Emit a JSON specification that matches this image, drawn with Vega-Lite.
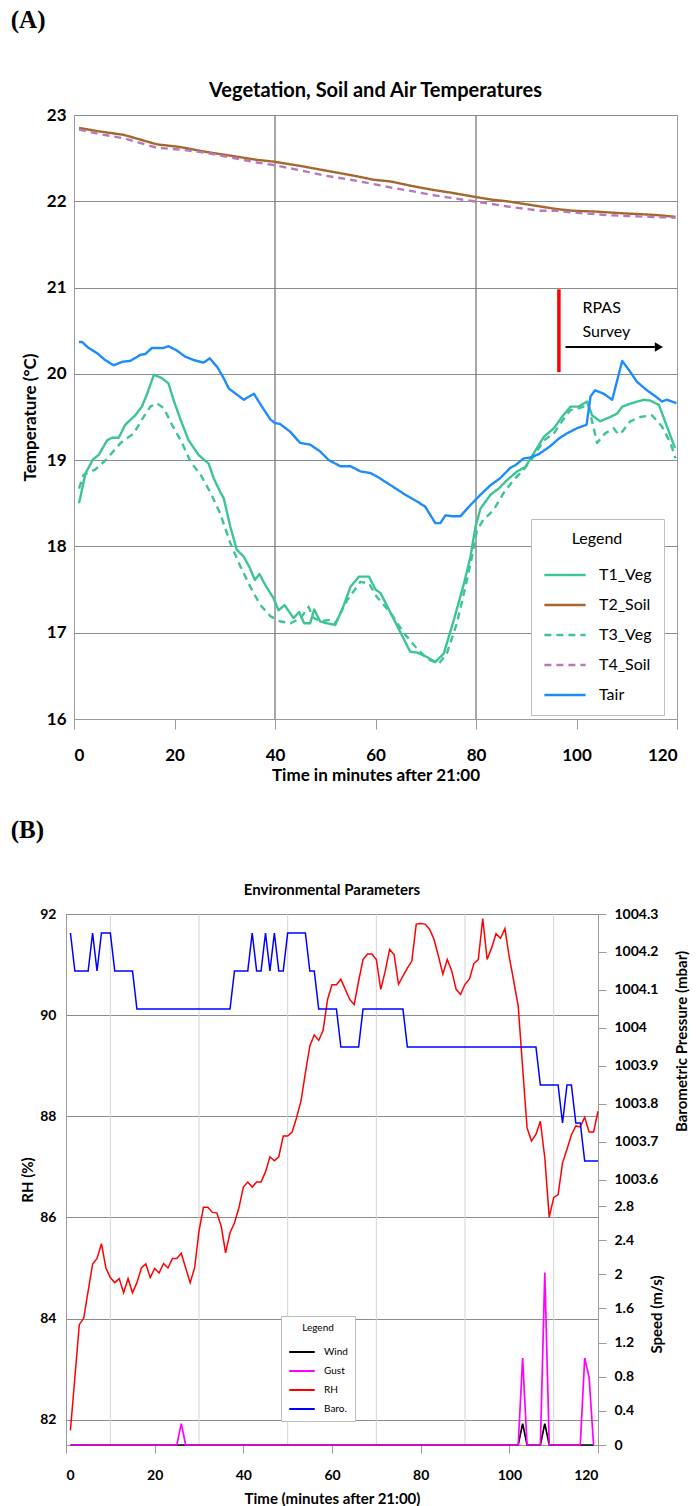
{
"$schema":"https://vega.github.io/schema/vega-lite/v6.json",
"background":"white",
"padding":{"left":10,"top":7,"right":0,"bottom":0},
"spacing":33,
"columns":1,
"resolve":{"scale":{"color":"independent","strokeDash":"independent","strokeWidth":"independent","x":"independent"},"legend":{"color":"independent","strokeDash":"independent"}},
"config":{
 "font":"Lato",
 "view":{"stroke":"#9a9a9a"},
 "axis":{"labelFont":"Lato","titleFont":"Lato","labelColor":"black","titleColor":"black","domainColor":"#9a9a9a","tickColor":"#9a9a9a","labelFontWeight":"bold","titleFontWeight":"bold"},
 "title":{"font":"Lato","fontWeight":"bold","color":"black"},
 "legend":{"labelFont":"Lato","titleFont":"Lato","labelColor":"black","titleColor":"black","titleFontWeight":"normal"}
},
"concat":[
{
 "title":{"text":"(A)","anchor":"start","font":"Liberation Serif","fontSize":25,"fontWeight":"bold","offset":48,"dx":-3},
 "spacing":0,
 "hconcat":[
 {"width":1,"height":1,"view":{"stroke":null},"data":{"values":[{"a":0}]},"mark":{"type":"point","opacity":0},"encoding":{"x":{"field":"a","type":"quantitative","axis":null},"y":{"field":"a","type":"quantitative","axis":null}}},
 {
 "width":603,"height":604,
 "title":{"text":"Vegetation, Soil and Air Temperatures","fontSize":20,"offset":5},
 "layer":[
  {"data":{"values":[{"t":40},{"t":80}]},
   "mark":{"type":"rule","color":"#7a7a7a","strokeWidth":1.3},
   "encoding":{"x":{"field":"t","type":"quantitative","scale":{"domain":[0,120],"nice":false},"axis":{"values":[0,20,40,60,80,100,120],"title":"Time in minutes after 21:00","labelFontSize":17,"titleFontSize":17,"tickSize":10,"labelPadding":18,"titlePadding":4,"grid":false}}}},
  {"data":{"values":[
{"t":1,"s":"T2_Soil","v":22.85},{"t":5,"s":"T2_Soil","v":22.81},{"t":9.9,"s":"T2_Soil","v":22.77},{"t":16.5,"s":"T2_Soil","v":22.66},{"t":21,"s":"T2_Soil","v":22.63},{"t":26.5,"s":"T2_Soil","v":22.57},{"t":31,"s":"T2_Soil","v":22.53},{"t":36.4,"s":"T2_Soil","v":22.48},{"t":39.7,"s":"T2_Soil","v":22.46},{"t":45,"s":"T2_Soil","v":22.41},{"t":49.7,"s":"T2_Soil","v":22.36},{"t":56.3,"s":"T2_Soil","v":22.29},{"t":59.6,"s":"T2_Soil","v":22.25},{"t":63,"s":"T2_Soil","v":22.23},{"t":67,"s":"T2_Soil","v":22.18},{"t":71.6,"s":"T2_Soil","v":22.13},{"t":75,"s":"T2_Soil","v":22.1},{"t":79.9,"s":"T2_Soil","v":22.05},{"t":83,"s":"T2_Soil","v":22.02},{"t":86.2,"s":"T2_Soil","v":22.0},{"t":92.8,"s":"T2_Soil","v":21.94},{"t":96,"s":"T2_Soil","v":21.91},{"t":99.4,"s":"T2_Soil","v":21.89},{"t":104,"s":"T2_Soil","v":21.88},{"t":109.4,"s":"T2_Soil","v":21.86},{"t":113,"s":"T2_Soil","v":21.85},{"t":116,"s":"T2_Soil","v":21.84},{"t":119.7,"s":"T2_Soil","v":21.82},
{"t":1,"s":"T4_Soil","v":22.83},{"t":5,"s":"T4_Soil","v":22.78},{"t":9.9,"s":"T4_Soil","v":22.73},{"t":16.5,"s":"T4_Soil","v":22.62},{"t":21,"s":"T4_Soil","v":22.6},{"t":26.5,"s":"T4_Soil","v":22.56},{"t":31,"s":"T4_Soil","v":22.51},{"t":36.4,"s":"T4_Soil","v":22.45},{"t":39.7,"s":"T4_Soil","v":22.42},{"t":45,"s":"T4_Soil","v":22.36},{"t":49.7,"s":"T4_Soil","v":22.3},{"t":55,"s":"T4_Soil","v":22.25},{"t":59.6,"s":"T4_Soil","v":22.2},{"t":63,"s":"T4_Soil","v":22.16},{"t":67,"s":"T4_Soil","v":22.12},{"t":71.6,"s":"T4_Soil","v":22.07},{"t":75,"s":"T4_Soil","v":22.04},{"t":79.5,"s":"T4_Soil","v":22.0},{"t":83,"s":"T4_Soil","v":21.97},{"t":86.2,"s":"T4_Soil","v":21.94},{"t":92.8,"s":"T4_Soil","v":21.89},{"t":96,"s":"T4_Soil","v":21.89},{"t":99.4,"s":"T4_Soil","v":21.87},{"t":106,"s":"T4_Soil","v":21.84},{"t":110,"s":"T4_Soil","v":21.83},{"t":114,"s":"T4_Soil","v":21.82},{"t":119.7,"s":"T4_Soil","v":21.81},
{"t":1,"s":"T3_Veg","v":18.67},{"t":1.9,"s":"T3_Veg","v":18.83},{"t":4.2,"s":"T3_Veg","v":18.89},{"t":6.3,"s":"T3_Veg","v":19.0},{"t":9.3,"s":"T3_Veg","v":19.2},{"t":11.9,"s":"T3_Veg","v":19.31},{"t":13.5,"s":"T3_Veg","v":19.47},{"t":15.2,"s":"T3_Veg","v":19.62},{"t":16.5,"s":"T3_Veg","v":19.66},{"t":17.9,"s":"T3_Veg","v":19.6},{"t":19.5,"s":"T3_Veg","v":19.41},{"t":21.5,"s":"T3_Veg","v":19.2},{"t":23.2,"s":"T3_Veg","v":18.98},{"t":25.2,"s":"T3_Veg","v":18.83},{"t":27.2,"s":"T3_Veg","v":18.62},{"t":29.1,"s":"T3_Veg","v":18.38},{"t":31.1,"s":"T3_Veg","v":18.04},{"t":33.1,"s":"T3_Veg","v":17.77},{"t":35.1,"s":"T3_Veg","v":17.53},{"t":37.1,"s":"T3_Veg","v":17.32},{"t":39.1,"s":"T3_Veg","v":17.19},{"t":41.1,"s":"T3_Veg","v":17.13},{"t":43.1,"s":"T3_Veg","v":17.11},{"t":45.1,"s":"T3_Veg","v":17.17},{"t":46.7,"s":"T3_Veg","v":17.3},{"t":47.5,"s":"T3_Veg","v":17.18},{"t":49,"s":"T3_Veg","v":17.13},{"t":51,"s":"T3_Veg","v":17.15},{"t":52,"s":"T3_Veg","v":17.11},{"t":54.4,"s":"T3_Veg","v":17.38},{"t":57,"s":"T3_Veg","v":17.59},{"t":58.7,"s":"T3_Veg","v":17.57},{"t":60.2,"s":"T3_Veg","v":17.42},{"t":63,"s":"T3_Veg","v":17.23},{"t":65.6,"s":"T3_Veg","v":17.0},{"t":67.9,"s":"T3_Veg","v":16.84},{"t":70.2,"s":"T3_Veg","v":16.7},{"t":72.6,"s":"T3_Veg","v":16.64},{"t":74.2,"s":"T3_Veg","v":16.76},{"t":76.2,"s":"T3_Veg","v":17.11},{"t":78.2,"s":"T3_Veg","v":17.61},{"t":79.2,"s":"T3_Veg","v":17.88},{"t":80.2,"s":"T3_Veg","v":18.19},{"t":81.5,"s":"T3_Veg","v":18.31},{"t":83.5,"s":"T3_Veg","v":18.42},{"t":85.5,"s":"T3_Veg","v":18.62},{"t":87.5,"s":"T3_Veg","v":18.77},{"t":89.5,"s":"T3_Veg","v":18.89},{"t":91.2,"s":"T3_Veg","v":19.02},{"t":93.5,"s":"T3_Veg","v":19.23},{"t":95.5,"s":"T3_Veg","v":19.31},{"t":97.1,"s":"T3_Veg","v":19.45},{"t":98.8,"s":"T3_Veg","v":19.58},{"t":100.4,"s":"T3_Veg","v":19.6},{"t":102.4,"s":"T3_Veg","v":19.64},{"t":103.1,"s":"T3_Veg","v":19.45},{"t":104.1,"s":"T3_Veg","v":19.2},{"t":105.7,"s":"T3_Veg","v":19.31},{"t":107.4,"s":"T3_Veg","v":19.37},{"t":108.3,"s":"T3_Veg","v":19.3},{"t":109.1,"s":"T3_Veg","v":19.33},{"t":110.7,"s":"T3_Veg","v":19.45},{"t":112.7,"s":"T3_Veg","v":19.5},{"t":115,"s":"T3_Veg","v":19.52},{"t":117,"s":"T3_Veg","v":19.39},{"t":118.7,"s":"T3_Veg","v":19.2},{"t":119.7,"s":"T3_Veg","v":19.02},
{"t":1,"s":"T1_Veg","v":18.5},{"t":2.3,"s":"T1_Veg","v":18.85},{"t":3.8,"s":"T1_Veg","v":19.01},{"t":4.9,"s":"T1_Veg","v":19.06},{"t":6.6,"s":"T1_Veg","v":19.23},{"t":7.6,"s":"T1_Veg","v":19.26},{"t":8.9,"s":"T1_Veg","v":19.26},{"t":10.2,"s":"T1_Veg","v":19.41},{"t":12.2,"s":"T1_Veg","v":19.52},{"t":13.5,"s":"T1_Veg","v":19.62},{"t":14.5,"s":"T1_Veg","v":19.76},{"t":15.9,"s":"T1_Veg","v":19.99},{"t":17.5,"s":"T1_Veg","v":19.95},{"t":18.8,"s":"T1_Veg","v":19.89},{"t":19.8,"s":"T1_Veg","v":19.7},{"t":21.2,"s":"T1_Veg","v":19.47},{"t":22.8,"s":"T1_Veg","v":19.23},{"t":24.8,"s":"T1_Veg","v":19.06},{"t":26.8,"s":"T1_Veg","v":18.96},{"t":27.8,"s":"T1_Veg","v":18.79},{"t":29.1,"s":"T1_Veg","v":18.63},{"t":29.8,"s":"T1_Veg","v":18.56},{"t":31.1,"s":"T1_Veg","v":18.23},{"t":32.4,"s":"T1_Veg","v":17.96},{"t":33.8,"s":"T1_Veg","v":17.88},{"t":35,"s":"T1_Veg","v":17.75},{"t":36,"s":"T1_Veg","v":17.61},{"t":36.9,"s":"T1_Veg","v":17.68},{"t":38.1,"s":"T1_Veg","v":17.55},{"t":39.7,"s":"T1_Veg","v":17.4},{"t":40.7,"s":"T1_Veg","v":17.26},{"t":41.9,"s":"T1_Veg","v":17.32},{"t":43.7,"s":"T1_Veg","v":17.17},{"t":44.8,"s":"T1_Veg","v":17.24},{"t":45.8,"s":"T1_Veg","v":17.11},{"t":47,"s":"T1_Veg","v":17.11},{"t":47.8,"s":"T1_Veg","v":17.27},{"t":49,"s":"T1_Veg","v":17.13},{"t":50.3,"s":"T1_Veg","v":17.11},{"t":52,"s":"T1_Veg","v":17.09},{"t":53.7,"s":"T1_Veg","v":17.32},{"t":55,"s":"T1_Veg","v":17.53},{"t":56.7,"s":"T1_Veg","v":17.65},{"t":58.7,"s":"T1_Veg","v":17.65},{"t":60,"s":"T1_Veg","v":17.5},{"t":61,"s":"T1_Veg","v":17.46},{"t":63,"s":"T1_Veg","v":17.23},{"t":65,"s":"T1_Veg","v":17.0},{"t":66.9,"s":"T1_Veg","v":16.78},{"t":68.3,"s":"T1_Veg","v":16.77},{"t":70.2,"s":"T1_Veg","v":16.72},{"t":71.9,"s":"T1_Veg","v":16.66},{"t":73.6,"s":"T1_Veg","v":16.76},{"t":75.6,"s":"T1_Veg","v":17.15},{"t":77.6,"s":"T1_Veg","v":17.57},{"t":78.9,"s":"T1_Veg","v":17.88},{"t":79.9,"s":"T1_Veg","v":18.23},{"t":80.9,"s":"T1_Veg","v":18.44},{"t":82.9,"s":"T1_Veg","v":18.6},{"t":84.5,"s":"T1_Veg","v":18.67},{"t":86.2,"s":"T1_Veg","v":18.77},{"t":88.2,"s":"T1_Veg","v":18.87},{"t":89.8,"s":"T1_Veg","v":18.92},{"t":91.5,"s":"T1_Veg","v":19.08},{"t":93.5,"s":"T1_Veg","v":19.27},{"t":95.5,"s":"T1_Veg","v":19.37},{"t":97.1,"s":"T1_Veg","v":19.5},{"t":98.8,"s":"T1_Veg","v":19.62},{"t":100.4,"s":"T1_Veg","v":19.62},{"t":102.1,"s":"T1_Veg","v":19.68},{"t":103.1,"s":"T1_Veg","v":19.52},{"t":104.7,"s":"T1_Veg","v":19.45},{"t":106.7,"s":"T1_Veg","v":19.5},{"t":108.1,"s":"T1_Veg","v":19.54},{"t":109.1,"s":"T1_Veg","v":19.62},{"t":111,"s":"T1_Veg","v":19.66},{"t":113.4,"s":"T1_Veg","v":19.7},{"t":114.7,"s":"T1_Veg","v":19.69},{"t":116.4,"s":"T1_Veg","v":19.64},{"t":118,"s":"T1_Veg","v":19.39},{"t":119.6,"s":"T1_Veg","v":19.14},
{"t":1,"s":"Tair","v":20.37},{"t":1.6,"s":"Tair","v":20.37},{"t":2.9,"s":"Tair","v":20.3},{"t":4.6,"s":"Tair","v":20.24},{"t":6.2,"s":"Tair","v":20.16},{"t":7.9,"s":"Tair","v":20.1},{"t":9.6,"s":"Tair","v":20.14},{"t":11.2,"s":"Tair","v":20.15},{"t":13.2,"s":"Tair","v":20.22},{"t":14.2,"s":"Tair","v":20.23},{"t":15.5,"s":"Tair","v":20.3},{"t":17.8,"s":"Tair","v":20.3},{"t":18.8,"s":"Tair","v":20.32},{"t":20.5,"s":"Tair","v":20.27},{"t":22.1,"s":"Tair","v":20.2},{"t":23.8,"s":"Tair","v":20.16},{"t":25.8,"s":"Tair","v":20.13},{"t":27,"s":"Tair","v":20.18},{"t":28.5,"s":"Tair","v":20.08},{"t":29.8,"s":"Tair","v":19.95},{"t":30.8,"s":"Tair","v":19.83},{"t":32.4,"s":"Tair","v":19.76},{"t":33.8,"s":"Tair","v":19.7},{"t":35.8,"s":"Tair","v":19.77},{"t":37.4,"s":"Tair","v":19.62},{"t":39.1,"s":"Tair","v":19.47},{"t":40,"s":"Tair","v":19.43},{"t":41,"s":"Tair","v":19.42},{"t":43,"s":"Tair","v":19.33},{"t":45,"s":"Tair","v":19.2},{"t":47,"s":"Tair","v":19.18},{"t":49,"s":"Tair","v":19.1},{"t":50.7,"s":"Tair","v":19.0},{"t":53,"s":"Tair","v":18.93},{"t":55,"s":"Tair","v":18.93},{"t":57,"s":"Tair","v":18.87},{"t":59,"s":"Tair","v":18.85},{"t":60.3,"s":"Tair","v":18.81},{"t":63,"s":"Tair","v":18.71},{"t":65.9,"s":"Tair","v":18.6},{"t":68.3,"s":"Tair","v":18.52},{"t":69.9,"s":"Tair","v":18.46},{"t":71.9,"s":"Tair","v":18.27},{"t":72.9,"s":"Tair","v":18.27},{"t":73.9,"s":"Tair","v":18.36},{"t":75.2,"s":"Tair","v":18.35},{"t":76.9,"s":"Tair","v":18.35},{"t":78.9,"s":"Tair","v":18.48},{"t":80.9,"s":"Tair","v":18.6},{"t":82.9,"s":"Tair","v":18.71},{"t":84.8,"s":"Tair","v":18.79},{"t":86.8,"s":"Tair","v":18.91},{"t":87.8,"s":"Tair","v":18.94},{"t":89.5,"s":"Tair","v":19.02},{"t":90.8,"s":"Tair","v":19.03},{"t":92.5,"s":"Tair","v":19.07},{"t":94.5,"s":"Tair","v":19.15},{"t":96.5,"s":"Tair","v":19.25},{"t":98.1,"s":"Tair","v":19.31},{"t":100.1,"s":"Tair","v":19.37},{"t":102,"s":"Tair","v":19.41},{"t":102.8,"s":"Tair","v":19.74},{"t":103.7,"s":"Tair","v":19.81},{"t":105.4,"s":"Tair","v":19.77},{"t":107.1,"s":"Tair","v":19.7},{"t":109.1,"s":"Tair","v":20.15},{"t":110.5,"s":"Tair","v":20.04},{"t":112,"s":"Tair","v":19.91},{"t":114,"s":"Tair","v":19.81},{"t":115.7,"s":"Tair","v":19.74},{"t":117,"s":"Tair","v":19.68},{"t":118,"s":"Tair","v":19.7},{"t":119.9,"s":"Tair","v":19.66}
   ]},
   "mark":{"type":"line","strokeJoin":"round"},
   "encoding":{
    "x":{"field":"t","type":"quantitative","scale":{"domain":[0,120],"nice":false},"axis":{"values":[0,20,40,60,80,100,120],"title":"Time in minutes after 21:00","labelFontSize":17,"titleFontSize":17,"tickSize":10,"labelPadding":18,"titlePadding":4,"grid":false}},
    "y":{"field":"v","type":"quantitative","scale":{"domain":[16,23],"nice":false,"zero":false},"axis":{"values":[16,17,18,19,20,21,22,23],"labelExpr":"toString(datum.value)","title":"Temperature (°C)","grid":true,"gridColor":"#8c8c8c","labelFontSize":17,"titleFontSize":17,"tickSize":0,"labelPadding":8,"titlePadding":7}},
    "color":{"field":"s","type":"nominal","scale":{"domain":["T1_Veg","T2_Soil","T3_Veg","T4_Soil","Tair"],"range":["#3cc592","#a5672d","#3cc592","#bb77bb","#1e8cff"]},
      "legend":{"orient":"none","legendX":515,"legendY":404,"title":"Legend","titleAnchor":"middle","fillColor":"white","strokeColor":"#bdbdbd","padding":12,"symbolType":"stroke","symbolSize":1700,"symbolStrokeWidth":2.4,"labelFontSize":16,"titleFontSize":16,"rowPadding":0,"titlePadding":6,"labelOffset":12}},
    "strokeDash":{"field":"s","type":"nominal","scale":{"domain":["T1_Veg","T2_Soil","T3_Veg","T4_Soil","Tair"],"range":[[1,0],[1,0],[7,5],[7,5],[1,0]]},
      "legend":{"orient":"none","legendX":515,"legendY":404,"title":"Legend","titleAnchor":"middle","fillColor":"white","strokeColor":"#bdbdbd","padding":12,"symbolType":"stroke","symbolSize":1700,"symbolStrokeWidth":2.4,"labelFontSize":16,"titleFontSize":16,"rowPadding":0,"titlePadding":6,"labelOffset":12}},
    "strokeWidth":{"field":"s","type":"nominal","scale":{"domain":["T1_Veg","T2_Soil","T3_Veg","T4_Soil","Tair"],"range":[2.4,2.4,1.2,2,2.4]},"legend":null}
   }},
  {"data":{"values":[{"t":96.5,"lo":20.02,"hi":20.98}]},
   "mark":{"type":"rule","color":"#ff0000","strokeWidth":3.5},
   "encoding":{"x":{"field":"t","type":"quantitative"},"y":{"field":"lo","type":"quantitative"},"y2":{"field":"hi"}}},
  {"data":{"values":[{"t":97.8,"t2":115.6,"v":20.31}]},
   "mark":{"type":"rule","color":"black","strokeWidth":2},
   "encoding":{"x":{"field":"t","type":"quantitative"},"x2":{"field":"t2"},"y":{"field":"v","type":"quantitative"}}},
  {"data":{"values":[{"t":116.4,"v":20.31}]},
   "mark":{"type":"point","shape":"triangle-right","filled":true,"color":"black","size":90,"opacity":1},
   "encoding":{"x":{"field":"t","type":"quantitative"},"y":{"field":"v","type":"quantitative"}}},
  {"data":{"values":[{"t":101.2,"v":20.76,"label":"RPAS"},{"t":101.2,"v":20.49,"label":"Survey"}]},
   "mark":{"type":"text","align":"left","baseline":"middle","fontSize":16,"font":"Lato","color":"black"},
   "encoding":{"x":{"field":"t","type":"quantitative"},"y":{"field":"v","type":"quantitative"},"text":{"field":"label"}}}
 ]
 }]
},
{
 "title":{"text":"(B)","anchor":"start","font":"Liberation Serif","fontSize":25,"fontWeight":"bold","offset":40,"dx":-3},
 "spacing":0,
 "hconcat":[
 {"width":1,"height":1,"view":{"stroke":null},"data":{"values":[{"a":0}]},"mark":{"type":"point","opacity":0},"encoding":{"x":{"field":"a","type":"quantitative","axis":null},"y":{"field":"a","type":"quantitative","axis":null}}},
 {
 "width":532,"height":531,
 "title":{"text":"Environmental Parameters","fontSize":15,"offset":9},
 "layer":[
  {"data":{"values":[{"t":10},{"t":30},{"t":50},{"t":70},{"t":90},{"t":110}]},
   "mark":{"type":"rule","color":"#d3d3d3","strokeWidth":1},
   "encoding":{"x":{"field":"t","type":"quantitative","scale":{"domain":[0,120],"nice":false},"axis":{"values":[0,20,40,60,80,100,120],"title":"Time (minutes after 21:00)","labelFontSize":14,"titleFontSize":15,"tickSize":8,"labelPadding":15,"titlePadding":9,"grid":false}}}},
  {"data":{"values":[
{"t":1,"s":"RH","rh":81.79},{"t":2,"s":"RH","rh":82.84},{"t":3,"s":"RH","rh":83.88},{"t":4,"s":"RH","rh":84.01},{"t":5,"s":"RH","rh":84.55},{"t":6,"s":"RH","rh":85.08},{"t":7,"s":"RH","rh":85.19},{"t":8,"s":"RH","rh":85.48},{"t":9,"s":"RH","rh":85.0},{"t":10,"s":"RH","rh":84.81},{"t":11,"s":"RH","rh":84.71},{"t":12,"s":"RH","rh":84.79},{"t":13,"s":"RH","rh":84.51},{"t":14,"s":"RH","rh":84.79},{"t":15,"s":"RH","rh":84.51},{"t":16,"s":"RH","rh":84.71},{"t":17,"s":"RH","rh":85.0},{"t":18,"s":"RH","rh":85.08},{"t":19,"s":"RH","rh":84.81},{"t":20,"s":"RH","rh":84.99},{"t":21,"s":"RH","rh":84.9},{"t":22,"s":"RH","rh":85.09},{"t":23,"s":"RH","rh":85.0},{"t":24,"s":"RH","rh":85.19},{"t":25,"s":"RH","rh":85.19},{"t":26,"s":"RH","rh":85.29},{"t":27,"s":"RH","rh":85.0},{"t":28,"s":"RH","rh":84.71},{"t":29,"s":"RH","rh":85.0},{"t":30,"s":"RH","rh":85.73},{"t":31,"s":"RH","rh":86.2},{"t":32,"s":"RH","rh":86.2},{"t":33,"s":"RH","rh":86.1},{"t":34,"s":"RH","rh":86.09},{"t":35,"s":"RH","rh":85.83},{"t":36,"s":"RH","rh":85.3},{"t":37,"s":"RH","rh":85.7},{"t":38,"s":"RH","rh":85.89},{"t":39,"s":"RH","rh":86.19},{"t":40,"s":"RH","rh":86.6},{"t":41,"s":"RH","rh":86.7},{"t":42,"s":"RH","rh":86.6},{"t":43,"s":"RH","rh":86.7},{"t":44,"s":"RH","rh":86.7},{"t":45,"s":"RH","rh":86.9},{"t":46,"s":"RH","rh":87.2},{"t":47,"s":"RH","rh":87.12},{"t":48,"s":"RH","rh":87.2},{"t":49,"s":"RH","rh":87.61},{"t":50,"s":"RH","rh":87.61},{"t":51,"s":"RH","rh":87.69},{"t":52,"s":"RH","rh":87.97},{"t":53,"s":"RH","rh":88.3},{"t":54,"s":"RH","rh":88.86},{"t":55,"s":"RH","rh":89.39},{"t":56,"s":"RH","rh":89.61},{"t":57,"s":"RH","rh":89.5},{"t":58,"s":"RH","rh":89.7},{"t":59,"s":"RH","rh":90.31},{"t":60,"s":"RH","rh":90.6},{"t":61,"s":"RH","rh":90.6},{"t":62,"s":"RH","rh":90.71},{"t":63,"s":"RH","rh":90.51},{"t":64,"s":"RH","rh":90.31},{"t":65,"s":"RH","rh":90.21},{"t":66,"s":"RH","rh":90.67},{"t":67,"s":"RH","rh":91.1},{"t":68,"s":"RH","rh":91.21},{"t":69,"s":"RH","rh":91.21},{"t":70,"s":"RH","rh":91.1},{"t":71,"s":"RH","rh":90.51},{"t":72,"s":"RH","rh":90.87},{"t":73,"s":"RH","rh":91.3},{"t":74,"s":"RH","rh":91.2},{"t":75,"s":"RH","rh":90.61},{"t":76,"s":"RH","rh":90.77},{"t":77,"s":"RH","rh":90.93},{"t":78,"s":"RH","rh":91.07},{"t":79,"s":"RH","rh":91.8},{"t":80,"s":"RH","rh":91.81},{"t":81,"s":"RH","rh":91.8},{"t":82,"s":"RH","rh":91.7},{"t":83,"s":"RH","rh":91.5},{"t":84,"s":"RH","rh":91.17},{"t":85,"s":"RH","rh":90.81},{"t":86,"s":"RH","rh":91.1},{"t":87,"s":"RH","rh":90.88},{"t":88,"s":"RH","rh":90.51},{"t":89,"s":"RH","rh":90.41},{"t":90,"s":"RH","rh":90.61},{"t":91,"s":"RH","rh":90.71},{"t":92,"s":"RH","rh":91.02},{"t":93,"s":"RH","rh":91.1},{"t":94,"s":"RH","rh":91.91},{"t":95,"s":"RH","rh":91.1},{"t":96,"s":"RH","rh":91.33},{"t":97,"s":"RH","rh":91.61},{"t":98,"s":"RH","rh":91.52},{"t":99,"s":"RH","rh":91.71},{"t":100,"s":"RH","rh":91.14},{"t":101,"s":"RH","rh":90.67},{"t":102,"s":"RH","rh":90.18},{"t":103,"s":"RH","rh":88.96},{"t":104,"s":"RH","rh":87.77},{"t":105,"s":"RH","rh":87.51},{"t":106,"s":"RH","rh":87.64},{"t":107,"s":"RH","rh":87.9},{"t":108,"s":"RH","rh":87.18},{"t":109,"s":"RH","rh":86.0},{"t":110,"s":"RH","rh":86.39},{"t":111,"s":"RH","rh":86.45},{"t":112,"s":"RH","rh":87.08},{"t":113,"s":"RH","rh":87.35},{"t":114,"s":"RH","rh":87.63},{"t":115,"s":"RH","rh":87.81},{"t":116,"s":"RH","rh":87.79},{"t":117,"s":"RH","rh":87.98},{"t":118,"s":"RH","rh":87.69},{"t":119,"s":"RH","rh":87.69},{"t":120,"s":"RH","rh":88.1}
   ]},
   "mark":{"type":"line","strokeWidth":1.5},
   "encoding":{
    "x":{"field":"t","type":"quantitative","scale":{"domain":[0,120],"nice":false},"axis":{"values":[0,20,40,60,80,100,120],"title":"Time (minutes after 21:00)","labelFontSize":14,"titleFontSize":15,"tickSize":8,"labelPadding":15,"titlePadding":9,"grid":false}},
    "y":{"field":"rh","type":"quantitative","scale":{"domain":[81.5,92],"nice":false,"zero":false},"axis":{"orient":"left","values":[82,84,86,88,90,92],"labelExpr":"toString(datum.value)","title":"RH (%)","grid":true,"gridColor":"#8c8c8c","labelFontSize":14,"titleFontSize":15,"tickSize":0,"labelPadding":10,"titlePadding":4}},
    "color":{"field":"s","type":"nominal","scale":{"domain":["Wind","Gust","RH","Baro."],"range":["#000000","#ff00ff","#ff0000","#0000ff"]},
      "legend":{"orient":"none","legendX":265,"legendY":402,"title":"Legend","titleAnchor":"middle","fillColor":"white","strokeColor":"#bdbdbd","padding":7,"symbolType":"stroke","symbolSize":650,"symbolStrokeWidth":2,"labelFontSize":10,"titleFontSize":10,"rowPadding":0,"titlePadding":5,"labelOffset":8}}
   }},
  {"data":{"values":[
{"t":1,"s":"Baro.","p":1004.25},{"t":2,"s":"Baro.","p":1004.15},{"t":5,"s":"Baro.","p":1004.15},{"t":6,"s":"Baro.","p":1004.25},{"t":7,"s":"Baro.","p":1004.15},{"t":8,"s":"Baro.","p":1004.25},{"t":10,"s":"Baro.","p":1004.25},{"t":11,"s":"Baro.","p":1004.15},{"t":15,"s":"Baro.","p":1004.15},{"t":16,"s":"Baro.","p":1004.05},{"t":37,"s":"Baro.","p":1004.05},{"t":38,"s":"Baro.","p":1004.15},{"t":41,"s":"Baro.","p":1004.15},{"t":42,"s":"Baro.","p":1004.25},{"t":43,"s":"Baro.","p":1004.15},{"t":44,"s":"Baro.","p":1004.15},{"t":45,"s":"Baro.","p":1004.25},{"t":46,"s":"Baro.","p":1004.15},{"t":47,"s":"Baro.","p":1004.25},{"t":48,"s":"Baro.","p":1004.15},{"t":49,"s":"Baro.","p":1004.15},{"t":50,"s":"Baro.","p":1004.25},{"t":54,"s":"Baro.","p":1004.25},{"t":55,"s":"Baro.","p":1004.15},{"t":56,"s":"Baro.","p":1004.15},{"t":57,"s":"Baro.","p":1004.05},{"t":61,"s":"Baro.","p":1004.05},{"t":62,"s":"Baro.","p":1003.95},{"t":66,"s":"Baro.","p":1003.95},{"t":67,"s":"Baro.","p":1004.05},{"t":76,"s":"Baro.","p":1004.05},{"t":77,"s":"Baro.","p":1003.95},{"t":106,"s":"Baro.","p":1003.95},{"t":107,"s":"Baro.","p":1003.85},{"t":111,"s":"Baro.","p":1003.85},{"t":112,"s":"Baro.","p":1003.75},{"t":113,"s":"Baro.","p":1003.85},{"t":114,"s":"Baro.","p":1003.85},{"t":115,"s":"Baro.","p":1003.75},{"t":116,"s":"Baro.","p":1003.75},{"t":117,"s":"Baro.","p":1003.65},{"t":120,"s":"Baro.","p":1003.65}
   ]},
   "mark":{"type":"line","strokeWidth":1.5},
   "encoding":{
    "x":{"field":"t","type":"quantitative","scale":{"domain":[0,120],"nice":false},"axis":{"values":[0,20,40,60,80,100,120],"title":"Time (minutes after 21:00)","labelFontSize":14,"titleFontSize":15,"tickSize":8,"labelPadding":15,"titlePadding":9,"grid":false}},
    "y":{"field":"p","type":"quantitative","scale":{"domain":[1002.9026,1004.3],"nice":false,"zero":false},"axis":{"orient":"right","values":[1003.6,1003.7,1003.8,1003.9,1004,1004.1,1004.2,1004.3],"labelExpr":"toString(datum.value)","title":"Barometric Pressure (mbar)","grid":false,"labelFontSize":14,"titleFontSize":15,"tickSize":8,"labelPadding":8,"titleAngle":270,"titleX":83,"titleY":127,"titleBaseline":"middle","titleAlign":"center"}},
    "color":{"field":"s","type":"nominal","scale":{"domain":["Wind","Gust","RH","Baro."],"range":["#000000","#ff00ff","#ff0000","#0000ff"]},
      "legend":{"orient":"none","legendX":265,"legendY":402,"title":"Legend","titleAnchor":"middle","fillColor":"white","strokeColor":"#bdbdbd","padding":7,"symbolType":"stroke","symbolSize":650,"symbolStrokeWidth":2,"labelFontSize":10,"titleFontSize":10,"rowPadding":0,"titlePadding":5,"labelOffset":8}}
   }},
  {"data":{"values":[
{"t":1,"s":"Wind","sp":0},{"t":102,"s":"Wind","sp":0},{"t":103,"s":"Wind","sp":0.25},{"t":104,"s":"Wind","sp":0},{"t":107,"s":"Wind","sp":0},{"t":108,"s":"Wind","sp":0.25},{"t":109,"s":"Wind","sp":0},{"t":119,"s":"Wind","sp":0},
{"t":1,"s":"Gust","sp":0},{"t":25,"s":"Gust","sp":0},{"t":26,"s":"Gust","sp":0.25},{"t":27,"s":"Gust","sp":0},{"t":102,"s":"Gust","sp":0},{"t":103,"s":"Gust","sp":1.02},{"t":104,"s":"Gust","sp":0},{"t":107,"s":"Gust","sp":0},{"t":108,"s":"Gust","sp":2.02},{"t":109,"s":"Gust","sp":0},{"t":116,"s":"Gust","sp":0},{"t":117,"s":"Gust","sp":1.02},{"t":118,"s":"Gust","sp":0.79},{"t":119,"s":"Gust","sp":0}
   ]},
   "mark":{"type":"line","strokeWidth":1.7},
   "encoding":{
    "x":{"field":"t","type":"quantitative","scale":{"domain":[0,120],"nice":false},"axis":{"values":[0,20,40,60,80,100,120],"title":"Time (minutes after 21:00)","labelFontSize":14,"titleFontSize":15,"tickSize":8,"labelPadding":15,"titlePadding":9,"grid":false}},
    "y":{"field":"sp","type":"quantitative","scale":{"domain":[0,6.221],"nice":false,"zero":false},"axis":{"orient":"right","values":[0,0.4,0.8,1.2,1.6,2,2.4,2.8],"labelExpr":"toString(datum.value)","title":"Speed (m/s)","grid":false,"domain":false,"labelFontSize":14,"titleFontSize":15,"tickSize":8,"labelPadding":8,"titleAngle":270,"titleX":58,"titleY":400,"titleBaseline":"middle","titleAlign":"center"}},
    "color":{"field":"s","type":"nominal","scale":{"domain":["Wind","Gust","RH","Baro."],"range":["#000000","#ff00ff","#ff0000","#0000ff"]},
      "legend":{"orient":"none","legendX":265,"legendY":402,"title":"Legend","titleAnchor":"middle","fillColor":"white","strokeColor":"#bdbdbd","padding":7,"symbolType":"stroke","symbolSize":650,"symbolStrokeWidth":2,"labelFontSize":10,"titleFontSize":10,"rowPadding":0,"titlePadding":5,"labelOffset":8}}
   }}
 ],
 "resolve":{"scale":{"y":"independent"},"axis":{"y":"independent"}}
 }]
}
]
}
